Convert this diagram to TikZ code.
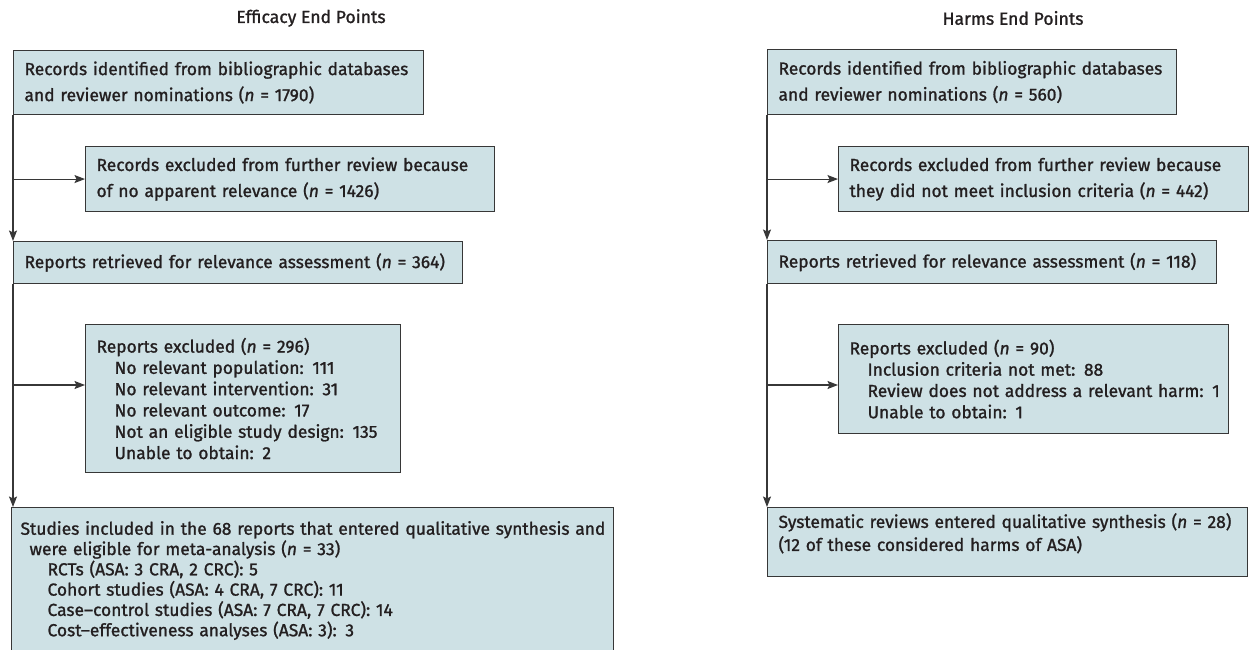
\documentclass[tikz,border=0pt]{standalone}
\usepackage{fontspec}
\setmainfont{Fira Sans}[UprightFeatures={FakeBold=1.2},ItalicFeatures={FakeBold=1.2}]
\usetikzlibrary{arrows.meta,calc}
\definecolor{boxfill}{RGB}{206,225,229}
\definecolor{boxline}{RGB}{55,55,55}
\definecolor{txt}{RGB}{35,31,32}
\newcommand{\tline}[2][0pt]{\mbox{\hspace*{#1}#2}}
\begin{document}
\begin{tikzpicture}[x=1pt,y=-1pt,
  box/.style={draw=boxline, fill=boxfill, line width=1.1pt, anchor=north west,
    inner xsep=11pt, inner ysep=0pt, align=left, text=txt},
  wide/.style={font=\fontsize{17.4}{26}\selectfont},
  list/.style={font=\fontsize{17.4}{21.3}\selectfont},
  flow/.style={draw=boxline, line width=1.1pt, -{Stealth[length=10.5pt,width=8pt,inset=2pt]}},
  ttl/.style={text=txt, font=\fontsize{17.6}{18}\selectfont}]
\useasboundingbox (0,0) rectangle (1250,650);

% titles
\node[ttl] (t1) at (311,18) {Efficacy End Points};
\node[ttl] (t2) at (1013,18) {Harms End Points};

% left column
\node[box, wide, minimum width=410pt, text width=388pt, minimum height=64pt] (a1) at (13,50)
  {\tline{Records identified from bibliographic databases}\\\tline{and reviewer nominations (\textit{n} = 1790)}};
\node[box, wide, minimum width=409pt, text width=387pt, minimum height=65pt] (a2) at (85,146)
  {\tline{Records excluded from further review because}\\\tline{of no apparent relevance (\textit{n} = 1426)}};
\node[box, wide, minimum width=449pt, text width=427pt, minimum height=42pt] (a3) at (13,241)
  {\tline{Reports retrieved for relevance assessment (\textit{n} = 364)}};
\node[box, list, minimum width=315pt, text width=293pt, minimum height=148pt] (a4) at (85,324)
  {\tline{Reports excluded (\textit{n} = 296)}\\
   \tline[18pt]{No relevant population: 111}\\
   \tline[18pt]{No relevant intervention: 31}\\
   \tline[18pt]{No relevant outcome: 17}\\
   \tline[18pt]{Not an eligible study design: 135}\\
   \tline[18pt]{Unable to obtain: 2}};
\node[box, font=\fontsize{17.4}{20.3}\selectfont, inner xsep=9pt, minimum width=602pt, text width=584pt, minimum height=146pt] (a5) at (11,507)
  {\tline{Studies included in the 68 reports that entered qualitative synthesis and}\\
   \tline[9pt]{were eligible for meta-analysis (\textit{n} = 33)}\\
   \tline[27pt]{RCTs (ASA: 3 CRA, 2 CRC): 5}\\
   \tline[27pt]{Cohort studies (ASA: 4 CRA, 7 CRC): 11}\\
   \tline[27pt]{Case–control studies (ASA: 7 CRA, 7 CRC): 14}\\
   \tline[27pt]{Cost–effectiveness analyses (ASA: 3): 3}};

% right column
\node[box, wide, minimum width=409pt, text width=387pt, minimum height=65pt] (b1) at (767,49)
  {\tline{Records identified from bibliographic databases}\\\tline{and reviewer nominations (\textit{n} = 560)}};
\node[box, wide, minimum width=410pt, text width=388pt, minimum height=65pt] (b2) at (838,146)
  {\tline{Records excluded from further review because}\\\tline{they did not meet inclusion criteria (\textit{n} = 442)}};
\node[box, wide, minimum width=449pt, text width=427pt, minimum height=43pt] (b3) at (767,240)
  {\tline{Reports retrieved for relevance assessment (\textit{n} = 118)}};
\node[box, list, minimum width=390pt, text width=368pt, minimum height=109pt] (b4) at (838,324)
  {\tline{Reports excluded (\textit{n} = 90)}\\
   \tline[18pt]{Inclusion criteria not met: 88}\\
   \tline[18pt]{Review does not address a relevant harm: 1}\\
   \tline[18pt]{Unable to obtain: 1}};
\node[box, font=\fontsize{17.4}{23}\selectfont, minimum width=480pt, text width=458pt, minimum height=69pt] (b5) at (767,507)
  {\tline{Systematic reviews entered qualitative synthesis (\textit{n} = 28)}\\
   \tline{(12 of these considered harms of ASA)}\rule[-20pt]{0pt}{1pt}};

% left connectors
\coordinate (a4in) at ($(a4.north west)+(0,61)$);
\draw[flow] (a1.south west) -- (a3.north west);
\draw[flow] (a1.south west |- a2.west) -- (a2.west);
\draw[flow] (a3.south west) -- (a3.south west |- a5.north);
\draw[flow] (a3.south west |- a4in) -- (a4in);

% right connectors
\coordinate (b4in) at ($(b4.north west)+(0,61)$);
\draw[flow] (b1.south west) -- (b3.north west);
\draw[flow] (b1.south west |- b2.west) -- (b2.west);
\draw[flow] (b3.south west) -- (b5.north west);
\draw[flow] (b3.south west |- b4in) -- (b4in);
\end{tikzpicture}
\end{document}
